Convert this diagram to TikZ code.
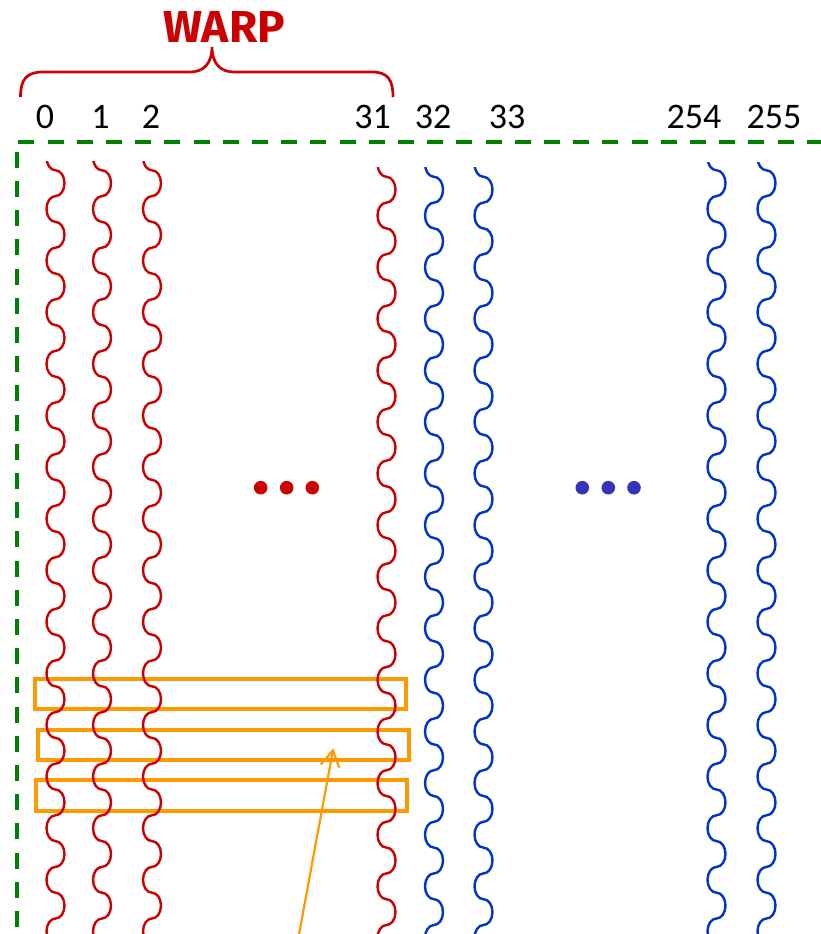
\documentclass[tikz,border=0pt]{standalone}
\usepackage{fontspec}
\usepackage{graphicx}
\setmainfont{Carlito}
\newfontfamily\warpfont{Fira Sans}
\usetikzlibrary{arrows.meta}
\definecolor{wred}{RGB}{204,0,0}
\definecolor{wblue}{RGB}{0,51,204}
\definecolor{dblue}{RGB}{51,51,187}
\definecolor{wgreen}{RGB}{0,128,0}
\definecolor{worange}{RGB}{255,153,0}
\tikzset{
  wavestyle/.style={line width=2.4pt, line cap=butt},
  greendash/.style={draw=wgreen, line width=4pt, dash pattern=on 16pt off 13.2pt},
  rowbox/.style={draw=worange, line width=4pt, rectangle, inner sep=0pt, minimum width=371pt, minimum height=30pt},
  num/.style={anchor=base, inner sep=0pt, font=\fontsize{36}{40}\selectfont},
  bracestyle/.style={draw=wred, line width=2.7pt},
  pointer/.style={draw=worange, line width=2.2pt, -{Straight Barb[length=16pt,width=19pt]}},
  reddot/.style={fill=wred},
  bluedot/.style={fill=dblue}
}
% #1 centre x, #2 phase shift, #3 start y, #4 colour
\newcommand\wavyline[4]{%
  \begin{scope}
    \clip ({#1-20},#3) rectangle ({#1+20},940);
    \draw[wavestyle,draw=#4] (#1,{144.5+#2-51.6})
      foreach \m in {-2,0,...,30}{
        .. controls ({#1-4.97},{144.5+#2+25.8*\m}) and ({#1-9},{144.5+#2+25.8*\m+5.78}) .. ({#1-9},{144.5+#2+25.8*\m+12.9})
        .. controls ({#1-9},{144.5+#2+25.8*\m+20.02}) and ({#1-4.97},{144.5+#2+25.8*\m+25.8}) .. (#1,{144.5+#2+25.8*\m+25.8})
        .. controls ({#1+4.97},{144.5+#2+25.8*\m+25.8}) and ({#1+9},{144.5+#2+25.8*\m+31.58}) .. ({#1+9},{144.5+#2+25.8*\m+38.7})
        .. controls ({#1+9},{144.5+#2+25.8*\m+45.82}) and ({#1+4.97},{144.5+#2+25.8*\m+51.6}) .. (#1,{144.5+#2+25.8*\m+51.6})
      };
  \end{scope}}
\begin{document}
\begin{tikzpicture}[x=1pt,y=-1pt]
\useasboundingbox (0,0) rectangle (821,934);
\clip (0,0) rectangle (821,934);
% green dashed frame
\coordinate (gtl) at (18.3,141.5);
\coordinate (gtr) at (840,141.5);
\coordinate (glt) at (16.7,151.7);
\coordinate (glb) at (16.7,950);
\draw[greendash] (gtl) -- (gtr);
\draw[greendash] (glt) -- (glb);
% orange row boxes
\node[rowbox] (r1) at (220.8,693.7) {};
\node[rowbox, minimum width=370.7pt] (r2) at (223.35,744.7) {};
\node[rowbox, minimum height=31.6pt] (r3) at (221.5,795.5) {};
% threads
\wavyline{55.5}{0}{161.7}{wred}
\wavyline{102}{0}{161.7}{wred}
\wavyline{152}{0}{161.7}{wred}
\wavyline{386.5}{6.5}{167}{wred}
\wavyline{434}{6.5}{167}{wblue}
\wavyline{483.5}{6.5}{167}{wblue}
\wavyline{716.5}{0}{162}{wblue}
\wavyline{766.5}{0}{162}{wblue}
% dots
\fill[reddot] (260.7,487.7) circle[radius=6.8pt];
\fill[reddot] (286.7,487.7) circle[radius=6.8pt];
\fill[reddot] (312.3,487.7) circle[radius=6.8pt];
\fill[bluedot] (582.3,487.7) circle[radius=6.8pt];
\fill[bluedot] (608.3,487.7) circle[radius=6.8pt];
\fill[bluedot] (634,487.7) circle[radius=6.8pt];
% thread numbers
\node[num] (n0) at (45,128.3) {0};
\node[num] (n1) at (100.5,128.3) {1};
\node[num] (n2) at (151,128.3) {2};
\node[num] (n31) at (372.5,128.3) {31};
\node[num] (n32) at (433,128.3) {32};
\node[num] (n33) at (507,128.3) {33};
\node[num] (n254) at (694,128.3) {254};
\node[num] (n255) at (774,128.3) {255};
% brace and WARP label
\draw[bracestyle] (20.5,97) .. controls (20.5,80) and (26,72) .. (43,72) -- (190,72) .. controls (204,72) and (212,63) .. (212,47) .. controls (212,63) and (220,72) .. (234,72) -- (372,72) .. controls (388,72) and (393,80) .. (393,97);
\node[anchor=base, inner sep=0pt, text=wred] (warp) at (224,43) {\resizebox{122pt}{31pt}{\warpfont\bfseries WARP}};
% arrow
\coordinate (tail) at (294.3,960);
\coordinate (tip) at (333.3,748.3);
\draw[pointer] (tail) -- (tip);
\end{tikzpicture}
\end{document}
